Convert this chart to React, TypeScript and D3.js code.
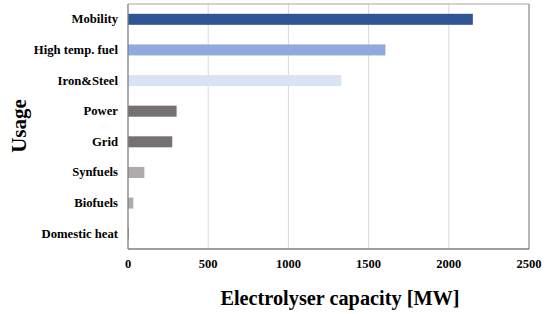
import React from 'react';
import {scaleLinear, scaleBand} from 'd3';

const categories = [
  'Mobility',
  'High temp. fuel',
  'Iron&Steel',
  'Power',
  'Grid',
  'Synfuels',
  'Biofuels',
  'Domestic heat',
];
const capacityMW = [2150, 1605, 1330, 303, 276, 102, 33, 4];
const barColors = [
  '#2F5597',
  '#8FAADC',
  '#DAE3F3',
  '#767171',
  '#767171',
  '#AFABAB',
  '#AFABAB',
  '#767171',
];
const xTicks = [0, 500, 1000, 1500, 2000, 2500];

const W = 548;
const H = 314;
const left = 128;
const right = 529;
const top = 4;
const bottom = 249;
const textStyle = {fontFamily: "'Liberation Serif', serif", fontWeight: 700};

export default function App() {
  const x = scaleLinear().domain([0, 2500]).range([left, right]);
  const y = scaleBand<string>()
    .domain(categories)
    .range([top, bottom])
    .paddingInner(0.64)
    .paddingOuter(0.32);

  return (
    <svg
      width={W}
      height={H}
      style={{position: 'absolute', left: 0, top: 0}}>
      <rect x={0} y={0} width={W} height={H} fill="#fff" />
      {xTicks.slice(1).map(t => (
        <line
          key={t}
          x1={x(t)}
          x2={x(t)}
          y1={top}
          y2={bottom}
          stroke="#d9d9d9"
          strokeWidth={1}
        />
      ))}
      {/* frame */}
      <line x1={left} x2={right} y1={top} y2={top} stroke="#a6a6a6" strokeWidth={1.2} />
      <line x1={right} x2={right} y1={top} y2={bottom} stroke="#a6a6a6" strokeWidth={1.5} />
      {categories.map((c, i) => (
        <rect
          key={c}
          x={x(0)}
          y={y(c)}
          width={x(capacityMW[i]) - x(0)}
          height={y.bandwidth()}
          fill={barColors[i]}
        />
      ))}
      <line x1={left} x2={left} y1={top} y2={bottom} stroke="#7f7f7f" strokeWidth={1.3} />
      <line x1={left} x2={right} y1={bottom} y2={bottom} stroke="#7f7f7f" strokeWidth={1.3} />
      {categories.map(c => (
        <text
          key={c}
          x={left - 10}
          y={(y(c) as number) + y.bandwidth() / 2}
          textAnchor="end"
          dominantBaseline="central"
          fontSize={12.7}
          style={textStyle}>
          {c}
        </text>
      ))}
      {xTicks.map(t => (
        <text
          key={t}
          x={x(t)}
          y={264}
          textAnchor="middle"
          dominantBaseline="central"
          fontSize={12.5}
          style={textStyle}>
          {t}
        </text>
      ))}
      <text
        x={340}
        y={298}
        textAnchor="middle"
        dominantBaseline="central"
        fontSize={20.3}
        style={textStyle}>
        Electrolyser capacity [MW]
      </text>
      <text
        transform={`translate(19, 126) rotate(-90)`}
        textAnchor="middle"
        dominantBaseline="central"
        fontSize={21}
        style={textStyle}>
        Usage
      </text>
    </svg>
  );
}
